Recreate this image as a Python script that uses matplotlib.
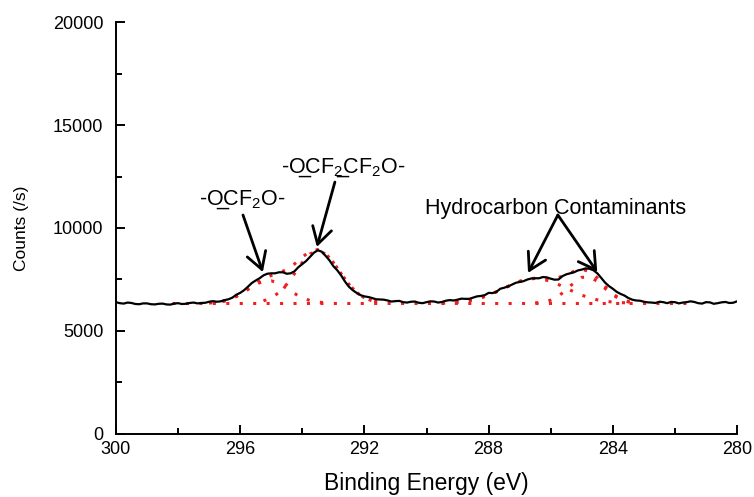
import matplotlib
matplotlib.use('Agg')
import matplotlib.pyplot as plt
from matplotlib.ticker import MultipleLocator

plt.rcParams['font.family'] = ['Liberation Sans', 'DejaVu Sans']
plt.rcParams['mathtext.fontset'] = 'custom'
plt.rcParams['mathtext.rm'] = 'Liberation Sans'
plt.rcParams['mathtext.it'] = 'Liberation Sans:italic'
plt.rcParams['mathtext.default'] = 'regular'

# measured C 1s spectrum (0.125 eV steps, 300 -> 280 eV)
energy = [300 - 0.125 * i for i in range(161)]
counts = [6400, 6350, 6330, 6380, 6360, 6310, 6300, 6340, 6340, 6300,
          6290, 6320, 6330, 6290, 6280, 6330, 6350, 6310, 6320, 6360,
          6380, 6340, 6360, 6370, 6420, 6450, 6420, 6440, 6500, 6540,
          6620, 6760, 6850, 6980, 7150, 7330, 7450, 7560, 7700, 7780,
          7800, 7800, 7850, 7850, 7780, 7800, 7900, 8100, 8250, 8400,
          8600, 8800, 8920, 8850, 8650, 8430, 8150, 7950, 7700, 7400,
          7150, 6980, 6850, 6740, 6680, 6650, 6600, 6540, 6530, 6520,
          6480, 6430, 6450, 6460, 6400, 6380, 6420, 6430, 6370, 6350,
          6400, 6440, 6430, 6380, 6410, 6470, 6500, 6480, 6520, 6570,
          6560, 6560, 6620, 6680, 6700, 6740, 6850, 6840, 6900, 7050,
          7100, 7160, 7250, 7340, 7380, 7420, 7500, 7550, 7560, 7560,
          7620, 7600, 7540, 7490, 7500, 7660, 7750, 7800, 7850, 7940,
          7980, 8040, 8020, 7950, 7800, 7580, 7350, 7180, 7050, 6900,
          6800, 6720, 6600, 6520, 6480, 6470, 6420, 6390, 6380, 6360,
          6420, 6400, 6350, 6410, 6400, 6340, 6380, 6400, 6440, 6410,
          6350, 6330, 6400, 6390, 6320, 6350, 6390, 6410, 6360, 6370,
          6440]

# fitted background
bg_x = [298.2, 281.4]
bg_y = [6350, 6350]

# -OCF2O- component
c1_x = [297 - 0.25 * i for i in range(16)]
c1_y = [6365, 6394, 6458, 6580, 6772, 7017, 7260, 7421, 7437, 7302,
        7068, 6818, 6613, 6477, 6403, 6369]

# -OCF2CF2O- component
c2_x = [295.25 - 0.25 * i for i in range(16)]
c2_y = [6462, 6607, 6868, 7269, 7786, 8326, 8742, 8900, 8742, 8326,
        7786, 7269, 6868, 6607, 6462, 6393]

# fluorocarbon envelope
e1_x = [297 - 0.25 * i for i in range(23)]
e1_y = [6365, 6394, 6458, 6583, 6782, 7032, 7303, 7533, 7694, 7820,
        7987, 8254, 8589, 8869, 8953, 8761, 8332, 7786, 7269, 6868,
        6607, 6462, 6393]

# hydrocarbon components
c3_x = [289.5 - 0.25 * i for i in range(25)]
c3_y = [6363, 6377, 6403, 6446, 6512, 6610, 6740, 6900, 7078, 7256,
        7409, 7513, 7550, 7513, 7409, 7256, 7078, 6900, 6740, 6610,
        6512, 6446, 6403, 6377, 6363]

c4_x = [286.5 - 0.25 * i for i in range(14)]
c4_y = [6364, 6401, 6496, 6691, 6997, 7348, 7603, 7629, 7412, 7067,
        6744, 6526, 6414, 6369]

e2_x = [289.5 - 0.25 * i for i in range(26)]
e2_y = [6363, 6377, 6403, 6446, 6512, 6610, 6740, 6900, 7078, 7256,
        7409, 7516, 7564, 7564, 7555, 7597, 7725, 7898, 7993, 7889,
        7574, 7163, 6797, 6553, 6427, 6375]

fig = plt.figure(figsize=(7.54, 4.97), dpi=100)
ax = fig.add_axes([0.1538, 0.1268, 0.8237, 0.8289])

red = '#EE2020'
dots = (0, (1, 3.4))
for xs, ys in [(bg_x, bg_y), (c1_x, c1_y), (c2_x, c2_y), (e1_x, e1_y),
               (c3_x, c3_y), (c4_x, c4_y), (e2_x, e2_y)]:
    ax.plot(xs, ys, color=red, linestyle=dots, linewidth=2.2, zorder=2)

ax.plot(energy, counts, color='black', linewidth=1.6, zorder=3)

# labels + arrows
arrow = dict(arrowstyle='->, head_length=0.6, head_width=0.35', color='black', lw=2,
             shrinkA=0, shrinkB=0, mutation_scale=20)
ax.annotate('', xy=(295.27, 7860), xytext=(295.91, 10630), arrowprops=arrow)
ax.annotate('', xy=(293.53, 9080), xytext=(292.95, 12230), arrowprops=arrow)
ax.annotate('', xy=(286.73, 7820), xytext=(285.77, 10630), arrowprops=arrow)
ax.annotate('', xy=(284.5, 7860), xytext=(285.77, 10630), arrowprops=arrow)

ax.text(295.94, 11360, '-O\u0332CF$_2$O-', ha='center', va='center', fontsize=15.5)
ax.text(292.69, 12910, '-O\u0332CF$_2$\u0332CF$_2$O-', ha='center', va='center', fontsize=15.5)
ax.text(285.83, 10970, 'Hydrocarbon Contaminants', ha='center', va='center', fontsize=15.5)

ax.set_xlim(300, 280)
ax.set_ylim(0, 20000)
ax.xaxis.set_major_locator(MultipleLocator(4))
ax.xaxis.set_minor_locator(MultipleLocator(2))
ax.yaxis.set_major_locator(MultipleLocator(5000))
ax.yaxis.set_minor_locator(MultipleLocator(2500))

for s in ['top', 'right']:
    ax.spines[s].set_visible(False)
for s in ['bottom', 'left']:
    ax.spines[s].set_linewidth(1.4)
ax.tick_params(which='both', direction='in', width=1.4, labelsize=13)
ax.tick_params(which='major', length=6.5)
ax.tick_params(which='minor', length=4)
ax.tick_params(axis='x', pad=5)
ax.tick_params(axis='y', pad=9)

ax.set_xlabel('Binding Energy (eV)', fontsize=16.5, labelpad=10)
ax.set_ylabel('Counts (/s)', fontsize=12.5, labelpad=17)

fig.savefig('out.png', dpi=100)
